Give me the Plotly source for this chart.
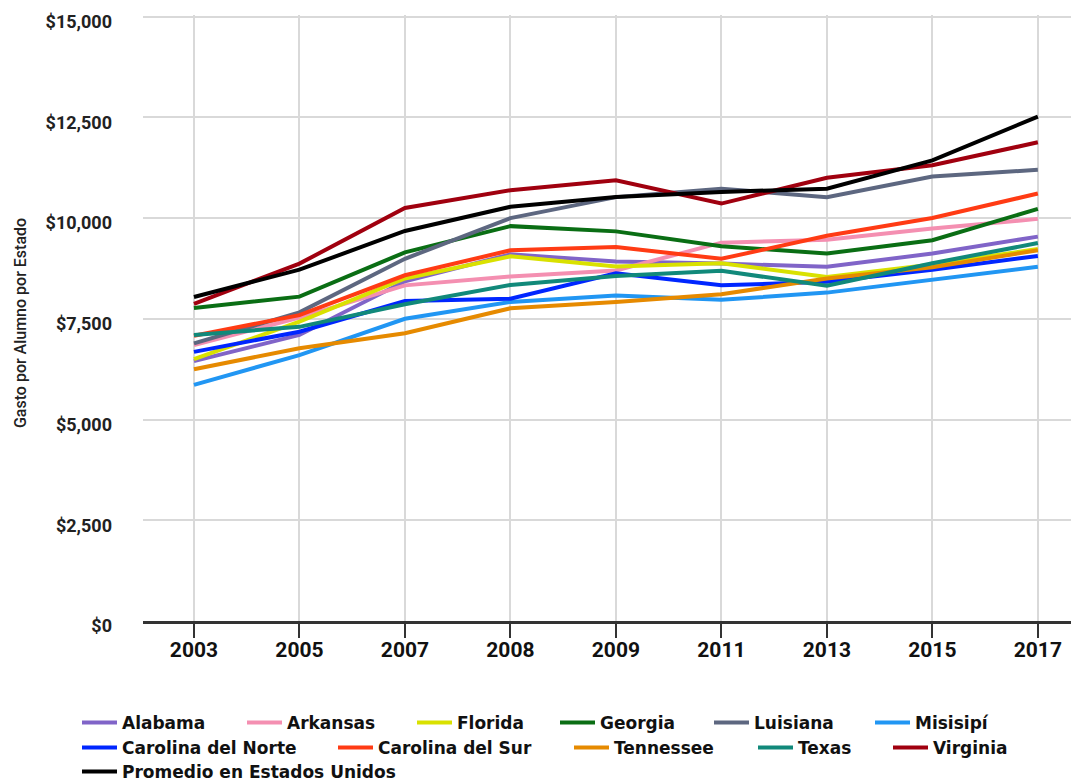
import plotly.graph_objects as go

years = ["2003", "2005", "2007", "2008", "2009", "2011", "2013", "2015", "2017"]

alabama = [6450, 7100, 8430, 9100, 8920, 8870, 8790, 9120, 9540]
arkansas = [6850, 7530, 8330, 8550, 8700, 9390, 9460, 9740, 9980]
florida = [6500, 7430, 8500, 9050, 8800, 8880, 8540, 8850, 9230]
georgia = [7770, 8050, 9150, 9800, 9670, 9300, 9120, 9450, 10230]
luisiana = [6890, 7660, 8990, 10000, 10520, 10730, 10520, 11030, 11200]
misisipi = [5860, 6600, 7500, 7920, 8080, 7970, 8150, 8480, 8790]
carolina_norte = [6680, 7180, 7940, 8000, 8630, 8330, 8420, 8720, 9060]
carolina_sur = [7080, 7590, 8580, 9200, 9280, 8990, 9560, 10000, 10610]
tennessee = [6250, 6770, 7140, 7760, 7920, 8110, 8500, 8780, 9200]
texas = [7100, 7300, 7860, 8340, 8560, 8690, 8320, 8880, 9380]
virginia = [7870, 8870, 10250, 10690, 10940, 10360, 11000, 11310, 11880]
promedio = [8040, 8720, 9680, 10280, 10520, 10650, 10730, 11430, 12520]

y_ticks = [0, 2500, 5000, 7500, 10000, 12500, 15000]

names = ["Alabama", "Arkansas", "Florida", "Georgia", "Luisiana", "Misisipí",
         "Carolina del Norte", "Carolina del Sur", "Tennessee", "Texas", "Virginia",
         "Promedio en Estados Unidos"]
series = [alabama, arkansas, florida, georgia, luisiana, misisipi,
          carolina_norte, carolina_sur, tennessee, texas, virginia, promedio]
colors = ["#8064c8", "#f48fb1", "#d9e100", "#0a6e14", "#5d6780", "#2196f3",
          "#0026ff", "#ff3b14", "#e68a00", "#11897a", "#a0000f", "#000000"]

# legend item text start (px) and row centre (px) on the page
legend_text_x = [122, 287, 457, 600, 754, 915,
                 122, 378, 614, 798, 933,
                 122]
legend_row_y = [723] * 6 + [748] * 5 + [772]

W, H = 1079, 784
OFF = 8  # page body margin offset

Y_MAX = 15040
PLOT_TOP = 15 - OFF          # figure px
PLOT_BOTTOM = 626 - OFF      # figure px (label axis bottom)
LABEL_DROP = 5               # labels sit ~5px below their grid lines
P = PLOT_BOTTOM - PLOT_TOP
frac = LABEL_DROP / P

fig = go.Figure()
for i, (n, s, c) in enumerate(zip(names, series, colors)):
    lid = "legend" if i == 0 else f"legend{i + 1}"
    fig.add_trace(go.Scatter(
        x=years, y=s, name=n, mode="lines",
        line=dict(color=c, width=4),
        legend=lid,
    ))

# empty helper trace on a hidden subplot that only carries the y tick labels
fig.add_trace(go.Scatter(x=[years[0]], y=[None], xaxis="x2", yaxis="y2", mode="lines",
                         showlegend=False, hoverinfo="skip"))

layout_legends = {}
for i in range(len(names)):
    lid = "legend" if i == 0 else f"legend{i + 1}"
    layout_legends[lid] = dict(
        xref="container", yref="container",
        x=(legend_text_x[i] - OFF - 45) / W, y=1 - (legend_row_y[i] - OFF) / H,
        xanchor="left", yanchor="middle",
        orientation="h",
        bgcolor="rgba(0,0,0,0)",
        itemwidth=35,
        font=dict(family="DejaVu Sans", size=17, color="#111111", weight="bold"),
    )

fig.update_layout(
    width=W, height=H,
    paper_bgcolor="white", plot_bgcolor="rgba(0,0,0,0)",
    margin=dict(l=143 - OFF, r=OFF, t=PLOT_TOP, b=H - PLOT_BOTTOM, autoexpand=False),
    showlegend=True,
    **layout_legends,
    xaxis=dict(
        type="category",
        range=[-0.483, 8.39],
        anchor="y",
        showgrid=True, gridcolor="#d9d9d9", gridwidth=2,
        showline=True, linecolor="#333333", linewidth=3,
        ticks="outside", ticklen=14, tickwidth=2, tickcolor="#333333",
        ticklabelstandoff=-6,
        tickfont=dict(family="Roboto", size=21, color="#111111", weight="bold"),
        zeroline=False,
    ),
    yaxis=dict(
        domain=[frac, 1],
        range=[0, Y_MAX],
        tickvals=y_ticks,
        showticklabels=False,
        showgrid=True, gridcolor="#d9d9d9", gridwidth=2,
        zeroline=False, showline=False,
    ),
    xaxis2=dict(
        type="category",
        range=[-0.483, 8.39],
        anchor="y2",
        visible=False,
        showgrid=False, zeroline=False,
    ),
    yaxis2=dict(
        anchor="x2", side="left",
        domain=[0, 1 - frac],
        range=[0, Y_MAX],
        tickvals=y_ticks,
        tickformat="$,.0f",
        ticklabeloverflow="allow",
        showgrid=False, zeroline=False, showline=False,
        ticklabelstandoff=30,
        tickfont=dict(family="Roboto", size=18, color="#222222", weight="bold"),
        title=dict(text="Gasto por Alumno por Estado", standoff=14,
                   font=dict(family="Roboto", size=16, color="#222222", weight=500)),
    ),
)

fig.write_html("out.html")
